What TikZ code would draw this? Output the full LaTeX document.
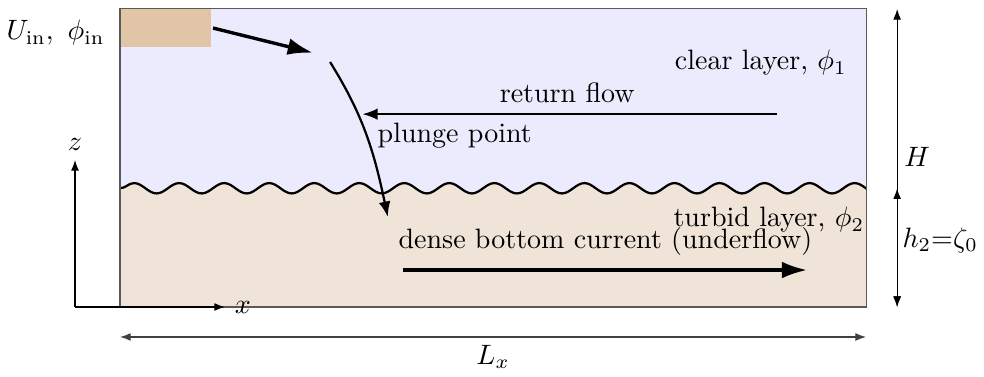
\documentclass[tikz,border=0pt]{standalone}
\usepackage{amsmath,amssymb,amsfonts}
\usepackage{tikz}
\usetikzlibrary{positioning, arrows.meta, decorations.pathmorphing}
\usepackage{xcolor}

\definecolor{clearcol}{RGB}{235,235,253}
\definecolor{turbidcol}{RGB}{240,227,215}
\definecolor{inletcol}{RGB}{224,197,167}

\begin{document}
\begin{tikzpicture}[
  flow/.style={very thick, -{Latex[length=9pt, width=6pt]}},
  thinflow/.style={thick, -{Latex[length=5.5pt, width=4.2pt]}},
  axis/.style={-{Latex[length=3.8pt, width=2.8pt]}},
  dim/.style={{Latex[length=3.8pt, width=2.8pt]}-{Latex[length=3.8pt, width=2.8pt]}},
  wave/.style={decorate, decoration={snake, segment length=0.565cm, amplitude=0.065cm}},
  tank/.style={draw=black!65}
]
\useasboundingbox (-1.506,-0.866) rectangle (10.84,3.852);

% Layers
\fill[clearcol] (0,0) rectangle (9.36,3.74);
\begin{scope}
  \clip (0,0) rectangle (9.36,3.74);
  \fill[turbidcol] (0,0) -- (0,1.49) decorate[wave]{-- (10,1.49)} -- (10,0) -- cycle;
  % Interface
  \draw[wave, thick] (0,1.49) -- (10,1.49);
\end{scope}
\node[fill=inletcol, minimum width=1.13cm, minimum height=0.465cm, inner sep=0, anchor=north west] (inlet) at (0,3.74) {};

% Tank
\draw[tank] (0,0) rectangle (9.36,3.74);

% Inflow and plunging
\coordinate (inA) at (1.167,3.50);
\coordinate (inB) at (2.42,3.19);
\coordinate (plA) at (2.635,3.074);
\coordinate (plB) at (3.36,1.13);
\coordinate (plunge) at (3.04,2.42);
\draw[flow] (inA) -- (inB);
\draw[thinflow] (plA) to[out=-58, in=102] (plB);

% Return flow
\coordinate (retA) at (8.24,2.42);
\draw[thinflow] (retA) -- (plunge);

% Underflow
\coordinate (undA) at (3.55,0.464);
\coordinate (undB) at (8.62,0.464);
\draw[flow] (undA) -- (undB);

% Labels
\node[anchor=east] (inlab) at (-0.07,3.44) {$U_{\text{in}},\ \phi_{\text{in}}$};
\node (retlab) at (5.61,2.685) {return flow};
\node (plungelab) at (4.20,2.145) {plunge point};
\node (clearlab) at (8.04,3.06) {clear layer, $\phi_1$};
\node (turbidlab) at (8.14,1.09) {turbid layer, $\phi_2$};
\node (denselab) at (6.09,0.816) {dense bottom current (underflow)};

% Axes
\coordinate (orig) at (-0.565,0);
\coordinate (zend) at (-0.565,1.845);
\coordinate (xend) at (1.317,0);
\draw[axis] (orig) -- (zend);
\draw[axis] (orig) -- (xend);
\node[above=0pt of zend] (zlab) {$z$};
\node[right=0pt of xend] (xlab) {$x$};

% Dimensions
\coordinate (Htop) at (9.75,3.74);
\coordinate (Hmid) at (9.75,1.49);
\coordinate (Hbot) at (9.75,0);
\draw[dim] (Hbot) -- (Htop);
\draw[dim] (Hbot) -- (Hmid);
\node (Hlab) at (10.0,1.88) {$H$};
\node (h2lab) at (10.29,0.84) {$h_2{=}\zeta_0$};

\coordinate (Lleft) at (0,-0.376);
\coordinate (Lright) at (9.36,-0.376);
\draw[dim, black!75] (Lleft) -- (Lright);
\node (Lxlab) at (4.68,-0.63) {$L_x$};

\end{tikzpicture}
\end{document}
